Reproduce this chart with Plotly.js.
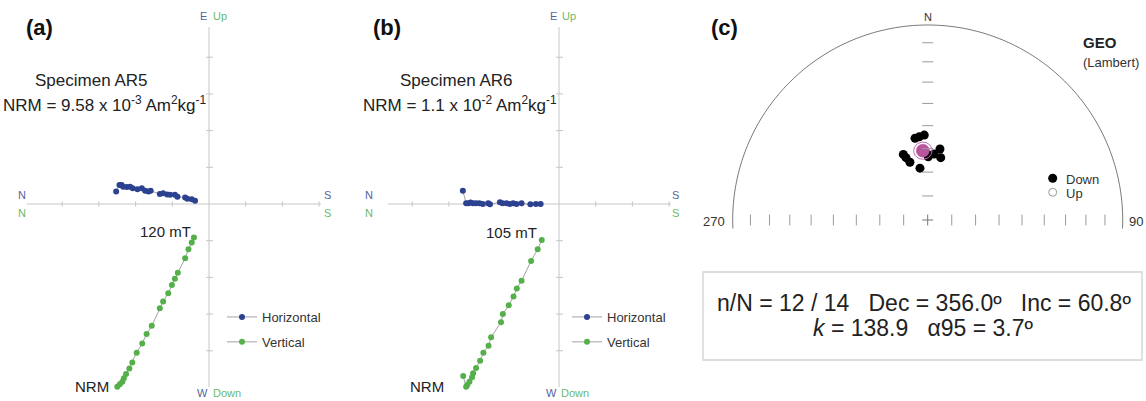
<!DOCTYPE html>
<html><head><meta charset="utf-8">
<script src="https://cdn.plot.ly/plotly-3.0.1.min.js"></script>
<style>html,body{margin:0;padding:0;background:#fff;}#chart{width:1146px;height:401px;}</style>
</head><body><div id="chart"></div>
<script>
// ---------- DATA ----------
// Panel (a): specimen AR5, Zijderveld diagram (units = one axis tick)
const aHorizX = [-2.53,-2.44,-2.38,-2.34,-2.24,-2.15,-2.08,-1.95,-1.83,-1.74,-1.65,-1.59,-1.34,-1.25,-1.14,-1.06,-0.93,-0.86,-0.65,-0.59,-0.47,-0.38];
const aHorizY = [0.34,0.52,0.52,0.47,0.46,0.47,0.43,0.40,0.43,0.36,0.34,0.36,0.27,0.29,0.26,0.25,0.25,0.20,0.18,0.14,0.13,0.09];
const aVertX  = [-2.50,-2.43,-2.36,-2.32,-2.26,-2.17,-2.09,-1.97,-1.82,-1.70,-1.56,-1.34,-1.25,-1.11,-1.01,-0.93,-0.85,-0.65,-0.56,-0.47,-0.41];
const aVertY  = [-4.98,-4.91,-4.84,-4.75,-4.63,-4.48,-4.32,-4.05,-3.80,-3.54,-3.32,-2.84,-2.66,-2.43,-2.21,-2.04,-1.87,-1.48,-1.23,-1.05,-0.91];
// Panel (b): specimen AR6
const bHorizX = [-2.62,-2.53,-2.47,-2.41,-2.34,-2.26,-2.17,-2.08,-1.93,-1.88,-1.61,-1.54,-1.43,-1.34,-1.25,-1.16,-1.02,-0.78,-0.63,-0.50];
const bHorizY = [0.36,0.02,0.02,0.04,0.02,0.02,0.02,0.00,0.02,-0.01,0.05,0.02,0.02,0.00,0.02,0.00,0.02,-0.01,0.00,0.00];
const bVertX  = [-2.61,-2.53,-2.50,-2.44,-2.37,-2.34,-2.26,-2.15,-2.06,-1.92,-1.85,-1.58,-1.53,-1.37,-1.24,-1.15,-1.02,-0.76,-0.58,-0.47];
const bVertY  = [-4.69,-4.98,-4.93,-4.84,-4.72,-4.61,-4.47,-4.27,-4.05,-3.86,-3.63,-3.22,-3.00,-2.76,-2.52,-2.30,-2.09,-1.55,-1.23,-0.98];
// Panel (c): site directions (GEO), equal-area
const cDec = [351.2,354.2,357.7,339.6,340.8,342.9,351.5,0.5,5.5,9.8,11.8,359.7];
const cInc = [55.1,54.7,54.1,60.6,62.3,64.7,68.1,63.5,62.2,59.7,63.3,62.4];
const meanDec = 356.0, meanInc = 60.8, meanA95 = 3.7;
const zTicks = [-4,-3,-2,-1,1,2,3,4];
const netIncTicks = [10,20,30,40,50,60,70,80];

// ---------- LAYOUT HELPERS ----------
const W = 1146, H = 401;
const FONT = "Arial, 'Liberation Sans', sans-serif";
const BLUE = '#2c418f', GREEN = '#55b04b';
const LBLUE = '#52649e', LGREEN = '#6cb86c';
const px = v => v / W, py = v => 1 - v / H;
function axes(ox, oy, s, x0, x1, yT, yB) {
  return [
    {domain:[x0/W, x1/W], range:[(x0-ox)/s, (x1-ox)/s], visible:false, fixedrange:true},
    {domain:[1-yB/H, 1-yT/H], range:[(oy-yB)/s, (oy-yT)/s], visible:false, fixedrange:true}
  ];
}
const [xa, ya] = axes(209, 204, 36.7, 0, 345, 0, 401);
const [xb, yb] = axes(559, 204, 36.7, 350, 700, 0, 401);
const [xc, yc] = axes(927.7, 220, 195, 700, 1146, 0, 270);
ya.anchor = 'x'; xa.anchor = 'y';
xb.anchor = 'y2'; yb.anchor = 'x2';
xc.anchor = 'y3'; yc.anchor = 'x3';

const shapes = [];
const AX = '#c6c6c6';
function zijAxes(xr, yr, xmin, xmax, ymin, ymax) {
  shapes.push({type:'line', xref:xr, yref:yr, x0:xmin, x1:xmax, y0:0, y1:0, line:{color:AX, width:1}, layer:'below'});
  shapes.push({type:'line', xref:xr, yref:yr, x0:0, x1:0, y0:ymin, y1:ymax, line:{color:AX, width:1}, layer:'below'});
  zTicks.forEach(t => {
    if (t >= xmin && t <= xmax)
      shapes.push({type:'line', xref:xr, yref:yr, x0:t, x1:t, y0:-0.07, y1:0.07, line:{color:AX, width:1}, layer:'below'});
    shapes.push({type:'line', xref:xr, yref:yr, x0:-0.08, x1:0.11, y0:t, y1:t, line:{color:AX, width:1}, layer:'below'});
  });
}
zijAxes('x', 'y', -4.96, 3.05, -4.99, 4.82);
zijAxes('x2', 'y2', -4.66, 3.05, -4.99, 4.82);

// equal-area projection
const rad = d => d * Math.PI / 180;
function eaR(inc) { return Math.SQRT2 * Math.sin(rad((90 - inc) / 2)); }
function proj(dec, inc) { const r = eaR(inc); return [r * Math.sin(rad(dec)), r * Math.cos(rad(dec))]; }

// primitive half circle
let path = '';
for (let a = -2.5; a <= 182.5; a += 1) {
  const xx = Math.cos(rad(a)), yy = Math.sin(rad(a));
  path += (path ? ' L ' : 'M ') + xx.toFixed(5) + ',' + yy.toFixed(5);
}
shapes.push({type:'path', xref:'x3', yref:'y3', path:path, line:{color:'#555', width:0.8}});
const TK = '#9a9a9a', tl = 0.028;
netIncTicks.forEach(i => {
  const r = eaR(i);
  [-r, r].forEach(xx => shapes.push({type:'line', xref:'x3', yref:'y3', x0:xx, x1:xx, y0:-tl, y1:tl, line:{color:TK, width:1}}));
  shapes.push({type:'line', xref:'x3', yref:'y3', x0:-tl, x1:tl, y0:r, y1:r, line:{color:TK, width:1}});
});
shapes.push({type:'line', xref:'x3', yref:'y3', x0:-tl, x1:tl, y0:0, y1:0, line:{color:'#777', width:1}});
shapes.push({type:'line', xref:'x3', yref:'y3', x0:0, x1:0, y0:-tl, y1:tl, line:{color:'#777', width:1}});

// statistics box
shapes.push({type:'rect', xref:'paper', yref:'paper', x0:px(703), x1:px(1142), y0:py(360), y1:py(272), line:{color:'#d2d2d2', width:1.3}});
// Down / Up key
shapes.push({type:'circle', xref:'paper', yref:'paper', x0:px(1048.2), x1:px(1057.2), y0:py(182.8), y1:py(173.8), fillcolor:'#000', line:{color:'#000', width:0}});
shapes.push({type:'circle', xref:'paper', yref:'paper', x0:px(1048.7), x1:px(1056.7), y0:py(196.3), y1:py(188.3), fillcolor:'#fff', line:{color:'#999', width:1}});

// ---------- TRACES ----------
const LN = {color:'#8c8c8c', width:0.8};
function zij(x, y, xr, yr, name, color, leg) {
  return {type:'scatter', mode:'lines+markers', x:x, y:y, xaxis:xr, yaxis:yr, name:name,
    line:LN, marker:{color:color, size:6}, cliponaxis:false, legend:leg, legendgroup:leg+name, hoverinfo:'skip'};
}
const cPts = cDec.map((d, i) => proj(d, cInc[i]));
// alpha95 circle around mean
const m = [Math.cos(rad(meanInc))*Math.cos(rad(meanDec)), Math.cos(rad(meanInc))*Math.sin(rad(meanDec)), Math.sin(rad(meanInc))];
let u = [m[1], -m[0], 0]; const un = Math.hypot(u[0], u[1]); u = [u[0]/un, u[1]/un, 0];
const v = [m[1]*u[2]-m[2]*u[1], m[2]*u[0]-m[0]*u[2], m[0]*u[1]-m[1]*u[0]];
const ax = [], ay = [];
for (let p = 0; p <= 360; p += 6) {
  const ca = Math.cos(rad(meanA95)), sa = Math.sin(rad(meanA95));
  const q = [0,1,2].map(k => ca*m[k] + sa*(Math.cos(rad(p))*u[k] + Math.sin(rad(p))*v[k]));
  const inc = Math.asin(q[2]) * 180 / Math.PI, dec = Math.atan2(q[1], q[0]) * 180 / Math.PI;
  const xy = proj(dec, inc); ax.push(xy[0]); ay.push(xy[1]);
}
const mp = proj(meanDec, meanInc);

const data = [
  zij(aHorizX, aHorizY, 'x', 'y', 'Horizontal', BLUE, 'legend'),
  zij(aVertX, aVertY, 'x', 'y', 'Vertical', GREEN, 'legend'),
  zij(bHorizX, bHorizY, 'x2', 'y2', 'Horizontal', BLUE, 'legend2'),
  zij(bVertX, bVertY, 'x2', 'y2', 'Vertical', GREEN, 'legend2'),
  {type:'scatter', mode:'markers', x:cPts.map(p=>p[0]), y:cPts.map(p=>p[1]), xaxis:'x3', yaxis:'y3',
    marker:{color:'#000', size:9}, showlegend:false, hoverinfo:'skip'},
  {type:'scatter', mode:'markers', x:[mp[0]], y:[mp[1]], xaxis:'x3', yaxis:'y3',
    marker:{color:'#b9559f', size:13, line:{color:'#a04890', width:0.5}}, showlegend:false, hoverinfo:'skip'},
  {type:'scatter', mode:'lines', x:ax, y:ay, xaxis:'x3', yaxis:'y3',
    line:{color:'#c46bb3', width:1}, showlegend:false, hoverinfo:'skip'}
];

// ---------- ANNOTATIONS ----------
function T(x, y, text, opt) {
  return Object.assign({xref:'paper', yref:'paper', x:px(x), y:py(y), text:text, showarrow:false,
    xanchor:'center', yanchor:'middle', font:{family:FONT, size:15, color:'#222'}}, opt || {});
}
const f = (size, color, weight) => ({family:FONT, size:size, color:color || '#222', weight:weight || 'normal'});
const ann = [
  T(39, 27, '(a)', {font:f(22, '#111', 'bold')}),
  T(387, 27, '(b)', {font:f(22, '#111', 'bold')}),
  T(724, 27, '(c)', {font:f(22, '#111', 'bold')}),
  T(91, 81, 'Specimen AR5', {font:f(17)}),
  T(104, 104, 'NRM = 9.58 x 10<sup>-3</sup> Am<sup>2</sup>kg<sup>-1</sup>', {font:f(17)}),
  T(456, 81, 'Specimen AR6', {font:f(17)}),
  T(460, 104, 'NRM = 1.1 x 10<sup>-2</sup> Am<sup>2</sup>kg<sup>-1</sup>', {font:f(17)}),
  // axis direction labels (a)
  T(203.5, 16, 'E', {font:f(11, LBLUE)}), T(220, 16, 'Up', {font:f(11, LGREEN)}),
  T(202, 393, 'W', {font:f(11, LBLUE)}), T(226.5, 393, 'Down', {font:f(11, LGREEN)}),
  T(22, 195, 'N', {font:f(11, LBLUE)}), T(22, 213, 'N', {font:f(11, LGREEN)}),
  T(327, 195, 'S', {font:f(11, LBLUE)}), T(327, 213, 'S', {font:f(11, LGREEN)}),
  // (b)
  T(553, 16, 'E', {font:f(11, LBLUE)}), T(568.5, 16, 'Up', {font:f(11, LGREEN)}),
  T(551, 393, 'W', {font:f(11, LBLUE)}), T(575, 393, 'Down', {font:f(11, LGREEN)}),
  T(369, 195, 'N', {font:f(11, LBLUE)}), T(369, 213, 'N', {font:f(11, LGREEN)}),
  T(675, 195, 'S', {font:f(11, LBLUE)}), T(675, 213, 'S', {font:f(11, LGREEN)}),
  // step labels anchored to data
  {xref:'x', yref:'y', x:aVertX[aVertX.length-1], y:aVertY[aVertY.length-1], text:'120 mT', showarrow:false, xanchor:'right', yanchor:'middle', xshift:-1, yshift:6, font:f(15)},
  {xref:'x', yref:'y', x:aVertX[0], y:aVertY[0], text:'NRM', showarrow:false, xanchor:'right', yanchor:'middle', xshift:-6, yshift:0, font:f(15)},
  {xref:'x2', yref:'y2', x:bVertX[bVertX.length-1], y:bVertY[bVertY.length-1], text:'105 mT', showarrow:false, xanchor:'right', yanchor:'middle', xshift:-3, yshift:7, font:f(15)},
  {xref:'x2', yref:'y2', x:bVertX[0], y:bVertY[0], text:'NRM', showarrow:false, xanchor:'right', yanchor:'middle', xshift:-17, yshift:-10, font:f(15)},
  // (c)
  T(928, 17, 'N', {font:f(11, '#333')}),
  T(714, 221, '270', {font:f(13, '#333')}),
  T(1136, 221, '90', {font:f(13, '#333')}),
  T(1081, 42, 'GEO', {xanchor:'left', font:f(15, '#222', 'bold')}),
  T(1081, 63, '(Lambert)', {xanchor:'left', font:f(13, '#333')}),
  T(1064, 179, 'Down', {xanchor:'left', font:f(13, '#333')}),
  T(1064, 193.5, 'Up', {xanchor:'left', font:f(13, '#333')}),
  T(924, 303, 'n/N = 12 / 14\u00a0\u00a0\u00a0Dec = 356.0º\u00a0\u00a0\u00a0Inc = 60.8º', {font:f(23, '#222')}),
  T(923, 328, '<i>k</i> = 138.9\u00a0\u00a0\u00a0α95 = 3.7º', {font:f(23, '#222')})
];

const legendBase = {yanchor:'top', xanchor:'left', bgcolor:'rgba(0,0,0,0)', borderwidth:0,
  font:{family:FONT, size:13, color:'#333'}, traceorder:'grouped', tracegroupgap:5, itemclick:false, itemdoubleclick:false};
const layout = {
  width:W, height:H, autosize:false, margin:{l:0, r:0, t:0, b:0},
  paper_bgcolor:'#fff', plot_bgcolor:'rgba(0,0,0,0)', showlegend:true,
  xaxis:xa, yaxis:ya, xaxis2:xb, yaxis2:yb, xaxis3:xc, yaxis3:yc,
  legend:Object.assign({x:px(222), y:py(302)}, legendBase),
  legend2:Object.assign({x:px(567), y:py(302)}, legendBase),
  shapes:shapes, annotations:ann, hovermode:false
};
Plotly.newPlot('chart', data, layout, {staticPlot:true, displayModeBar:false});
</script></body></html>
